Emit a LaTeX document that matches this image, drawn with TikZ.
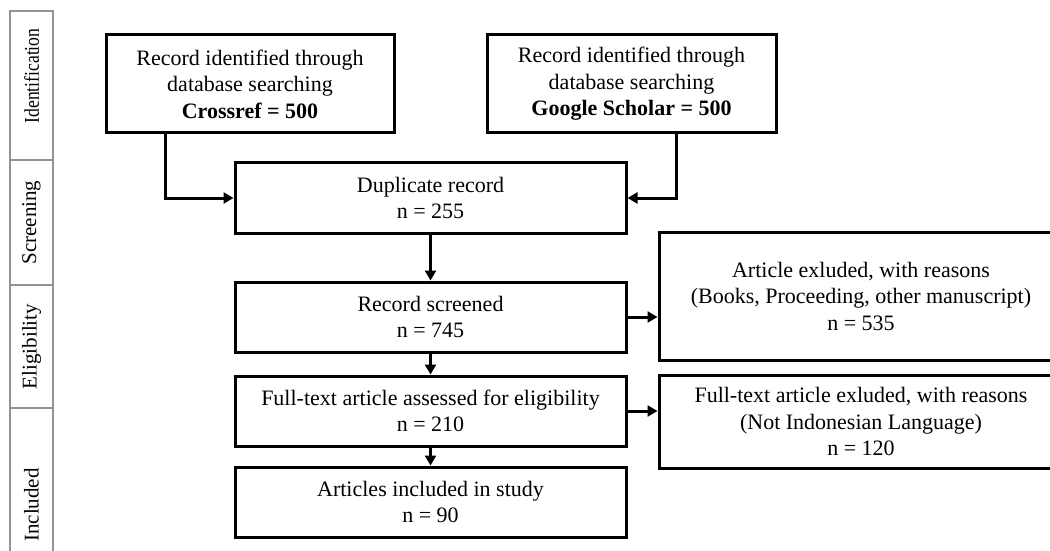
\documentclass[tikz,border=0pt]{standalone}
\usepackage{fontspec}
\setmainfont{Liberation Serif}
\usetikzlibrary{arrows.meta,positioning}

\begin{document}
\begin{tikzpicture}[x=0.5pt,y=-0.5pt,
  main node/.style={rectangle,draw,line width=1.5pt,align=center,inner sep=2pt,font=\fontsize{11pt}{13.25pt}\selectfont},
  stage node/.style={rectangle,draw=gray!85,line width=0.6pt,rotate=90,minimum height=21.5pt,inner sep=0pt,font=\fontsize{10.5pt}{12pt}\selectfont},
  flow/.style={line width=1.5pt,-{Triangle[length=5pt,width=5.5pt]}}]
  \useasboundingbox (0,0) rectangle (1050,551);
  % stages on the left
  \node [stage node,minimum width=74.5pt](Ident) at (31.5,85.5) {\hspace{9.5pt}\scalebox{0.84}[1]{Identification}};
  \node [stage node,minimum width=62.5pt](Scr) at (31.5,222.5) {Screening};
  \node [stage node,minimum width=61.5pt](Elig) at (31.5,346.5) {Eligibility\hspace{8.5pt}};
  \node [stage node,minimum width=97pt](Inc) at (31.5,505) {Included};

  % flow boxes
  \node [main node,minimum width=144pt,minimum height=49pt](Crossref) at (250,84) {Record identified through\\database searching\\\textbf{Crossref = 500}};
  \node [main node,minimum width=144.5pt,minimum height=49pt](Scholar) at (631.5,84) {Record identified through\\database searching\\\textbf{Google Scholar = 500}};
  \node [main node,minimum width=195.5pt,minimum height=35pt](Dup) at (430.5,198) {Duplicate record\\n = 255};
  \node [main node,minimum width=195.5pt,minimum height=35pt](Screen) at (430.5,317) {Record screened\\n = 745};
  \node [main node,minimum width=195.5pt,minimum height=35pt](Full) at (430.5,411) {Full-text article assessed for eligibility\\n = 210};
  \node [main node,minimum width=195.5pt,minimum height=35pt](Incl) at (430.5,502) {Articles included in study\\n = 90};
  \node [main node,minimum width=202pt,minimum height=64pt](Excl1) at (861,296) {Article exluded, with reasons\\(Books, Proceeding, other manuscript)\\n = 535};
  \node [main node,minimum width=202pt,minimum height=46.5pt](Excl2) at (861,421.5) {Full-text article exluded, with reasons\\(Not Indonesian Language)\\n = 120};

  \draw [flow]([xshift=-42.5pt]Crossref.south) |- (Dup.west);
  \draw [flow]([xshift=22.25pt]Scholar.south) |- (Dup.east);
  \draw [flow](Dup) -- (Screen);
  \draw [flow](Screen) -- (Full);
  \draw [flow](Full) -- (Incl);
  \draw [flow](Screen.east) -- (Screen.east -| Excl1.west);
  \draw [flow](Full.east) -- (Full.east -| Excl2.west);
\end{tikzpicture}
\end{document}
